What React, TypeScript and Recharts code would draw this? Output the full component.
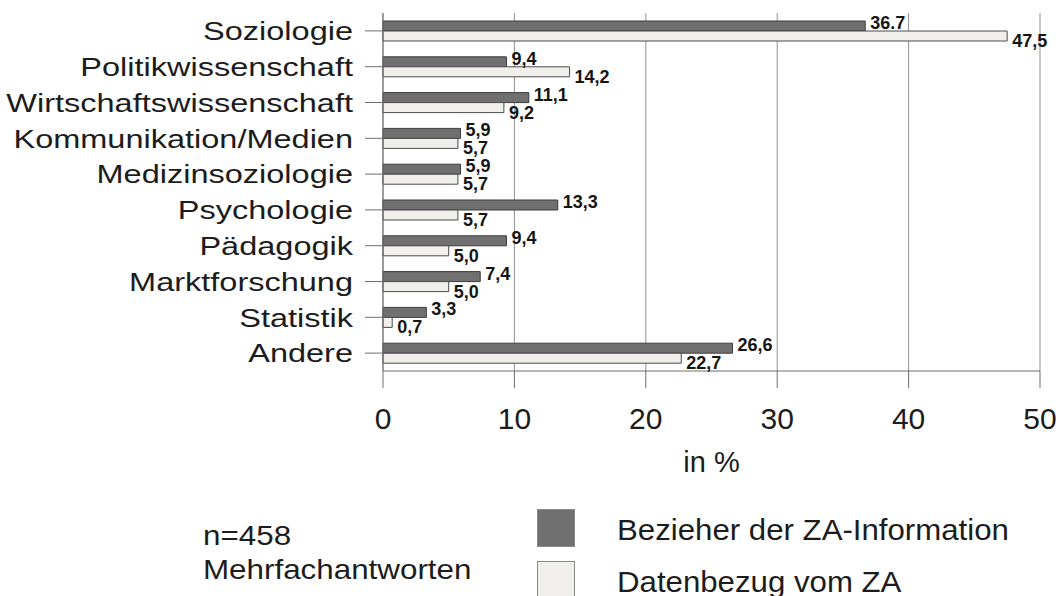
import { Bar, BarChart, CartesianGrid, LabelList, Legend, XAxis, YAxis } from 'recharts';

const categories = [
  'Soziologie',
  'Politikwissenschaft',
  'Wirtschaftswissenschaft',
  'Kommunikation/Medien',
  'Medizinsoziologie',
  'Psychologie',
  'Pädagogik',
  'Marktforschung',
  'Statistik',
  'Andere',
];

const bezieher = [36.7, 9.4, 11.1, 5.9, 5.9, 13.3, 9.4, 7.4, 3.3, 26.6];
const datenbezug = [47.5, 14.2, 9.2, 5.7, 5.7, 5.7, 5.0, 5.0, 0.7, 22.7];

// value labels as printed in the source (incl. the "36.7" with a period)
const bezieherLabels = ['36.7', '9,4', '11,1', '5,9', '5,9', '13,3', '9,4', '7,4', '3,3', '26,6'];
const datenbezugLabels = ['47,5', '14,2', '9,2', '5,7', '5,7', '5,7', '5,0', '5,0', '0,7', '22,7'];

const xTicks = [0, 10, 20, 30, 40, 50];

const rows = categories.map((name, i) => ({
  name,
  bezieher: bezieher[i],
  datenbezug: datenbezug[i],
  bezieherLabel: bezieherLabels[i],
  datenbezugLabel: datenbezugLabels[i],
}));

const FONT = '"Liberation Sans", Arial, sans-serif';
const DARK = '#707070';
const LIGHT = '#f0efeb';
const TEXT = '#1c1c1c';

function valueLabel(shift: number) {
  return (props: any) => {
    const { x, y, width, height, value } = props;
    return (
      <text
        x={Number(x) + Number(width) + 5}
        y={Number(y) + Number(height) / 2 + shift}
        dominantBaseline="central"
        fontFamily={FONT}
        fontWeight="bold"
        fontSize={18}
        fill="#151515"
      >
        {value}
      </text>
    );
  };
}

// the scanned labels are a bit wider than plain Arial, so stretch them horizontally
function CategoryTick({ x, y, payload }: any) {
  return (
    <g transform={`translate(${x},${y}) scale(1.25,1)`}>
      <text x={0} y={0} textAnchor="end" dominantBaseline="central" fontFamily={FONT} fontSize={26} fill={TEXT}>
        {payload.value}
      </text>
    </g>
  );
}

function FooterLegend({ payload }: any) {
  const items = payload ?? [];
  return (
    <div style={{ position: 'relative', width: 1063, height: 115, fontFamily: FONT, color: TEXT }}>
      <div
        style={{
          position: 'absolute',
          left: 203,
          top: 38,
          fontSize: 28,
          lineHeight: '34px',
          whiteSpace: 'nowrap',
          transform: 'scaleX(1.12)',
          transformOrigin: 'left center',
        }}
      >
        n=458
        <br />
        Mehrfachantworten
      </div>
      {items.map((item: any, i: number) => (
        <div key={item.value} style={{ position: 'absolute', left: 537, top: 28 + i * 52, height: 38, display: 'flex', alignItems: 'center' }}>
          <div
            style={{
              width: 38,
              height: 38,
              background: item.color,
              border: '1px solid #8a8a8a',
              boxSizing: 'border-box',
            }}
          />
          <span
            style={{
              marginLeft: 42,
              marginTop: 3,
              fontSize: 30,
              whiteSpace: 'nowrap',
              transform: 'scaleX(1.04)',
              transformOrigin: 'left center',
            }}
          >
            {item.value}
          </span>
        </div>
      ))}
    </div>
  );
}

export default function App() {
  return (
    <div style={{ position: 'absolute', left: 0, top: 0, width: 1063, height: 596, background: '#fff' }}>
      <BarChart
        width={1063}
        height={596}
        data={rows}
        layout="vertical"
        margin={{ top: 13, right: 23, bottom: 0, left: 0 }}
        barSize={10}
        barGap={0}
      >
        <CartesianGrid horizontal={false} stroke="#929292" />
        <XAxis
          type="number"
          domain={[0, 50]}
          ticks={xTicks}
          height={110}
          tickSize={17}
          tickMargin={20}
          stroke="#6e6e6e"
          tick={{ fontSize: 30, fill: TEXT, fontFamily: FONT }}
          label={{ value: 'in %', position: 'insideBottom', offset: 9, fontSize: 29, fill: TEXT, fontFamily: FONT }}
        />
        <YAxis
          type="category"
          dataKey="name"
          width={383}
          tickSize={18}
          tickMargin={12}
          stroke="#6e6e6e"
          interval={0}
          tick={<CategoryTick />}
        />
        <Legend
          verticalAlign="bottom"
          height={115}
          wrapperStyle={{ left: 0, bottom: 0, width: 1063, height: 115 }}
          content={<FooterLegend />}
        />
        <Bar
          dataKey="bezieher"
          name="Bezieher der ZA-Information"
          fill={DARK}
          stroke="#3d3d3d"
          strokeWidth={1}
          isAnimationActive={false}
        >
          <LabelList dataKey="bezieherLabel" content={valueLabel(-3)} />
        </Bar>
        <Bar
          dataKey="datenbezug"
          name="Datenbezug vom ZA"
          fill={LIGHT}
          stroke="#4a4a4a"
          strokeWidth={1}
          isAnimationActive={false}
        >
          <LabelList dataKey="datenbezugLabel" content={valueLabel(5)} />
        </Bar>
      </BarChart>
    </div>
  );
}
